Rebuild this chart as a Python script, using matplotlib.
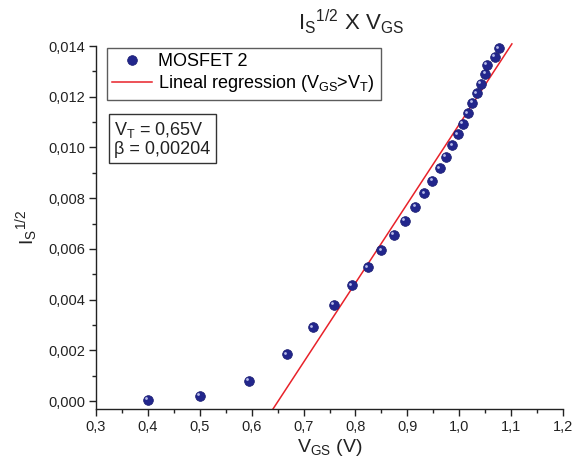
import matplotlib
matplotlib.use("Agg")
import matplotlib.pyplot as plt
import matplotlib.transforms as mtransforms
from matplotlib.ticker import MultipleLocator, FuncFormatter
import numpy as np

plt.rcParams['font.family'] = ['Liberation Sans', 'DejaVu Sans']
plt.rcParams['mathtext.fontset'] = 'custom'
plt.rcParams['mathtext.rm'] = 'Liberation Sans'
plt.rcParams['mathtext.it'] = 'Liberation Sans'
plt.rcParams['mathtext.bf'] = 'Liberation Sans'

# Data
vgs = [0.400, 0.500, 0.595, 0.668, 0.7175, 0.7586, 0.7927, 0.8235, 0.8497,
       0.8742, 0.8954, 0.9152, 0.9326, 0.948, 0.9628, 0.9744, 0.9865, 0.9975,
       1.0066, 1.0162, 1.0251, 1.0341, 1.0418, 1.0501, 1.0528, 1.0688, 1.0765]
is_sqrt = [0.00004, 0.00020, 0.00079, 0.00185, 0.00291, 0.00379, 0.00456,
           0.00528, 0.00594, 0.00655, 0.00711, 0.00766, 0.00819, 0.00869,
           0.00918, 0.00963, 0.01008, 0.01052, 0.01094, 0.01135, 0.01175,
           0.01214, 0.01251, 0.01289, 0.01325, 0.01357, 0.01391]
vt = 0.651
slope = 0.03126
reg_x = [0.641, 1.1015]
x_ticks = [0.3, 0.4, 0.5, 0.6, 0.7, 0.8, 0.9, 1.0, 1.1, 1.2]
y_ticks = [0.000, 0.002, 0.004, 0.006, 0.008, 0.010, 0.012, 0.014]

W, H = 588, 468
fig = plt.figure(figsize=(W / 100, H / 100), dpi=100)
ax = fig.add_axes([96 / W, 1 - 409 / H, (563 - 96) / W, (409 - 46) / H])

marker_color = '#22268c'
ax.plot(vgs, is_sqrt, linestyle='none', marker='o', markersize=7.0,
        markerfacecolor=marker_color, markeredgecolor='#1a1d70',
        markeredgewidth=0.5, label='MOSFET 2', zorder=3, clip_on=False)
hl = mtransforms.offset_copy(ax.transData, fig=fig, x=-1.2, y=1.2, units='points')
ax.plot(vgs, is_sqrt, linestyle='none', marker='o', markersize=2.0,
        markerfacecolor='#b8bdea', markeredgewidth=0, transform=hl, zorder=4,
        clip_on=False)

rx = np.array(reg_x)
ax.plot(rx, slope * (rx - vt), color='#e8222a', linewidth=1.1,
        label=r'Lineal regression (V$_{\mathregular{GS}}$>V$_{\mathregular{T}}$)',
        zorder=2, clip_on=False)

ax.set_xlim(0.3, 1.2)
ax.set_ylim(-0.00031, 0.014)
ax.set_xticks(x_ticks)
ax.set_yticks(y_ticks)
ax.xaxis.set_minor_locator(MultipleLocator(0.05))
ax.yaxis.set_minor_locator(MultipleLocator(0.001))
ax.xaxis.set_major_formatter(FuncFormatter(lambda v, p: f'{v:.1f}'.replace('.', ',')))
ax.yaxis.set_major_formatter(FuncFormatter(lambda v, p: f'{v:.3f}'.replace('.', ',')))
ax.tick_params(which='major', direction='out', length=5, width=1, labelsize=10.5, colors='#222222', pad=3)
ax.tick_params(which='minor', direction='out', length=3, width=1, colors='#222222')
for s in ['top', 'right']:
    ax.spines[s].set_visible(False)
for s in ['left', 'bottom']:
    ax.spines[s].set_linewidth(1.0)
    ax.spines[s].set_color('#222222')

ax.set_xlabel(r'V$_{\mathregular{GS}}$ (V)', fontsize=14, color='#222222', labelpad=2)
ax.set_ylabel(r'I$_{\mathregular{S}}{}^{\mathregular{1/2}}$', fontsize=14, color='#222222', labelpad=6)
fig.text(351 / W, 1 - 22 / H, r'I$_{\mathregular{S}}{}^{\mathregular{1/2}}$ X V$_{\mathregular{GS}}$',
         fontsize=16, color='#222222', ha='center', va='center')

leg = ax.legend(loc='upper left', bbox_to_anchor=(107 / W, 1 - 48 / H),
                bbox_transform=fig.transFigure, fontsize=13, frameon=True,
                fancybox=False, edgecolor='#333333', borderpad=0.3,
                labelspacing=0.15, handlelength=2.2, handletextpad=0.35,
                borderaxespad=0)
leg.get_frame().set_linewidth(1.0)

ax.text(114 / W, 1 - 139 / H, 'V$_{\\mathregular{T}}$ = 0,65V\nβ = 0,00204',
        transform=fig.transFigure, fontsize=13, color='#222222', va='center', ha='left',
        linespacing=1.05,
        bbox=dict(boxstyle='square,pad=0.3', facecolor='white', edgecolor='#333333', linewidth=1.0))

fig.savefig('out.png', dpi=100)
